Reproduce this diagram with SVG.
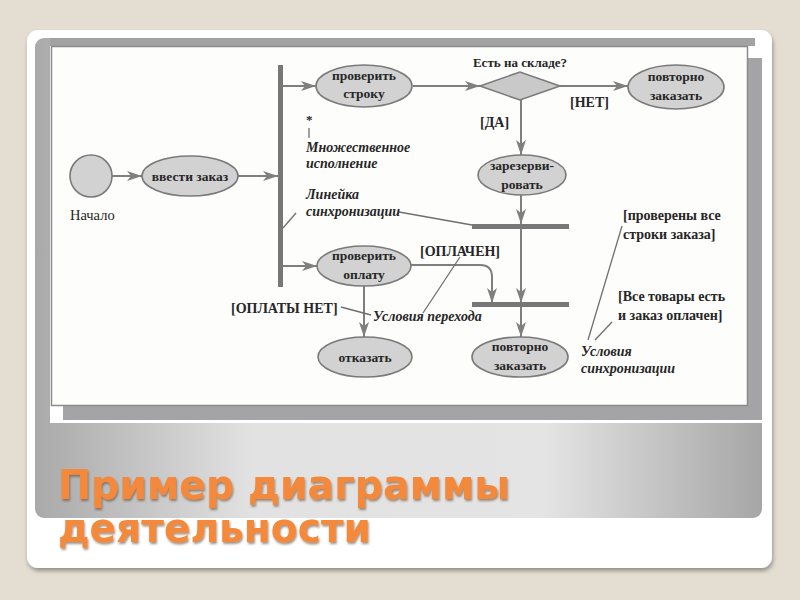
<svg xmlns="http://www.w3.org/2000/svg" width="800" height="600" viewBox="0 0 800 600">
<defs>
<linearGradient id="panelGrad" x1="0" y1="0" x2="1" y2="0">
<stop offset="0" stop-color="#a9a9a9"/>
<stop offset="0.3" stop-color="#e2e2e2"/>
<stop offset="0.7" stop-color="#e4e4e4"/>
<stop offset="1" stop-color="#a6a6a6"/>
</linearGradient>
<filter id="cardShadow" x="-5%" y="-5%" width="110%" height="112%">
<feDropShadow dx="1" dy="3" stdDeviation="2" flood-color="#000" flood-opacity="0.35"/>
</filter>
<filter id="titleShadow" x="-5%" y="-20%" width="110%" height="150%">
<feDropShadow dx="1" dy="2" stdDeviation="1.2" flood-color="#5a3a20" flood-opacity="0.55"/>
</filter>
<marker id="arr" markerUnits="userSpaceOnUse" markerWidth="16" markerHeight="12" refX="15" refY="6" orient="auto">
<path d="M0,1 L15,6 L0,11 L4,6 Z" fill="#7f7f7f"/>
</marker>
<style>
.node ellipse{fill:#d2d2d2;stroke:#7a7a7a;stroke-width:1.6}
.lbl{font-family:"Liberation Serif","DejaVu Serif",serif;font-weight:bold;font-size:13.5px;fill:#262626;text-anchor:middle}
.g{font-family:"Liberation Serif","DejaVu Serif",serif;font-weight:bold;font-size:14px;fill:#262626}
.it{font-family:"Liberation Serif","DejaVu Serif",serif;font-weight:bold;font-style:italic;font-size:14px;fill:#262626}
.conn path{fill:none;stroke:#7f7f7f;stroke-width:2}
.note line{stroke:#6f6f6f;stroke-width:1.3}
.bar{fill:#777}
.title{font-family:"DejaVu Sans","Verdana",sans-serif;font-weight:bold;font-size:40px;fill:#f4883a}
</style>
</defs>

<!-- slide background -->
<rect x="0" y="0" width="800" height="600" fill="#e4ddd2"/>
<rect x="27" y="30" width="745" height="538" rx="11" fill="#ffffff" filter="url(#cardShadow)"/>
<rect x="35" y="38" width="727" height="480" rx="9" fill="url(#panelGrad)"/>

<!-- picture frame -->
<rect x="50" y="38" width="712" height="385" fill="#ffffff"/>
<rect x="50" y="38" width="705" height="8" fill="#a2a2a2"/>
<rect x="63" y="58" width="699" height="362" fill="#a4a4a6"/>
<rect x="51.5" y="46.5" width="696" height="359" fill="#fdfdfb" stroke="#8a8a8a" stroke-width="1.5"/>

<!-- connectors -->
<g id="connectors" class="conn">
<path d="M112,176 H142" marker-end="url(#arr)"/>
<path d="M238,176 H278" marker-end="url(#arr)"/>
<path d="M282,86 H316" marker-end="url(#arr)"/>
<path d="M413,86 H480" marker-end="url(#arr)"/>
<path d="M560,86 H628" marker-end="url(#arr)"/>
<path d="M521,100 V155" marker-end="url(#arr)"/>
<path d="M521,195 V224" marker-end="url(#arr)"/>
<path d="M521,229 V303" marker-end="url(#arr)"/>
<path d="M521,307 V337" marker-end="url(#arr)"/>
<path d="M282,266 H317" marker-end="url(#arr)"/>
<path d="M411,265 H480 Q492,265 492,277 V303" marker-end="url(#arr)"/>
<path d="M364,286 V337" marker-end="url(#arr)"/>
</g>

<!-- annotation lines -->
<g id="notes" class="note">
<line x1="309" y1="128" x2="309" y2="138"/>
<line x1="296" y1="213" x2="283" y2="228"/>
<line x1="399" y1="212" x2="472" y2="225"/>
<line x1="460" y1="257" x2="423" y2="313"/>
<line x1="341" y1="307" x2="371" y2="315"/>
<line x1="588" y1="340" x2="622" y2="226"/>
<line x1="595" y1="340" x2="612" y2="322"/>
</g>

<!-- sync bars -->
<g id="bar-fork"><rect class="bar" x="278" y="65" width="5" height="222"/></g>
<g id="bar-join1"><rect class="bar" x="472" y="224" width="97" height="5"/></g>
<g id="bar-join2"><rect class="bar" x="472" y="302" width="97" height="5"/></g>

<!-- nodes -->
<g id="start"><circle cx="91" cy="176" r="21" fill="#d2d2d2" stroke="#7a7a7a" stroke-width="1.6"/>
<text class="g" x="70" y="220" style="font-weight:normal;font-size:14.5px">Начало</text></g>

<g id="enter-order" class="node"><ellipse cx="190" cy="176" rx="48" ry="20"/>
<text class="lbl" x="190" y="181">ввести заказ</text></g>

<g id="check-line" class="node"><ellipse cx="364" cy="86" rx="48" ry="21"/>
<text class="lbl" x="364" y="80">проверить</text><text class="lbl" x="364" y="98">строку</text></g>

<g id="in-stock"><path d="M480,86 L520,72 L560,86 L520,100 Z" fill="#c9c9c9" stroke="#7a7a7a" stroke-width="1.6"/>
<text class="g" x="520" y="67" text-anchor="middle" style="font-size:13px">Есть на складе?</text></g>

<g id="reorder1" class="node"><ellipse cx="676" cy="87" rx="48" ry="22"/>
<text class="lbl" x="676" y="81">повторно</text><text class="lbl" x="676" y="100">заказать</text></g>

<g id="reserve" class="node"><ellipse cx="522" cy="175" rx="44" ry="20"/>
<text class="lbl" x="522" y="170">зарезерви-</text><text class="lbl" x="522" y="189">ровать</text></g>

<g id="check-payment" class="node"><ellipse cx="364" cy="266" rx="47" ry="20"/>
<text class="lbl" x="364" y="260">проверить</text><text class="lbl" x="364" y="279">оплату</text></g>

<g id="refuse" class="node"><ellipse cx="365" cy="357" rx="47" ry="20"/>
<text class="lbl" x="365" y="362">отказать</text></g>

<g id="reorder2" class="node"><ellipse cx="520" cy="357" rx="48" ry="20"/>
<text class="lbl" x="520" y="351">повторно</text><text class="lbl" x="520" y="370">заказать</text></g>

<!-- labels -->
<g id="labels">
<text class="g" x="570" y="107">[НЕТ]</text>
<text class="g" x="480" y="127">[ДА]</text>
<text class="g" x="306" y="124" style="font-size:13px">*</text>
<text class="it" x="306" y="152">Множественное</text>
<text class="it" x="306" y="168">исполнение</text>
<text class="it" x="306" y="199">Линейка</text>
<text class="it" x="306" y="216">синхронизации</text>
<text class="g" x="420" y="256">[ОПЛАЧЕН]</text>
<text class="g" x="231" y="313">[ОПЛАТЫ НЕТ]</text>
<text class="it" x="373" y="321">Условия перехода</text>
<text class="g" x="623" y="220">[проверены все</text>
<text class="g" x="623" y="239">строки заказа]</text>
<text class="g" x="618" y="301">[Все товары есть</text>
<text class="g" x="618" y="320">и заказ оплачен]</text>
<text class="it" x="581" y="356">Условия</text>
<text class="it" x="581" y="373">синхронизации</text>
</g>

<!-- title -->
<g id="title" filter="url(#titleShadow)">
<text class="title" x="58" y="499" textLength="452" lengthAdjust="spacingAndGlyphs">Пример диаграммы</text>
<text class="title" x="58" y="542" textLength="313" lengthAdjust="spacingAndGlyphs">деятельности</text>
</g>
</svg>
